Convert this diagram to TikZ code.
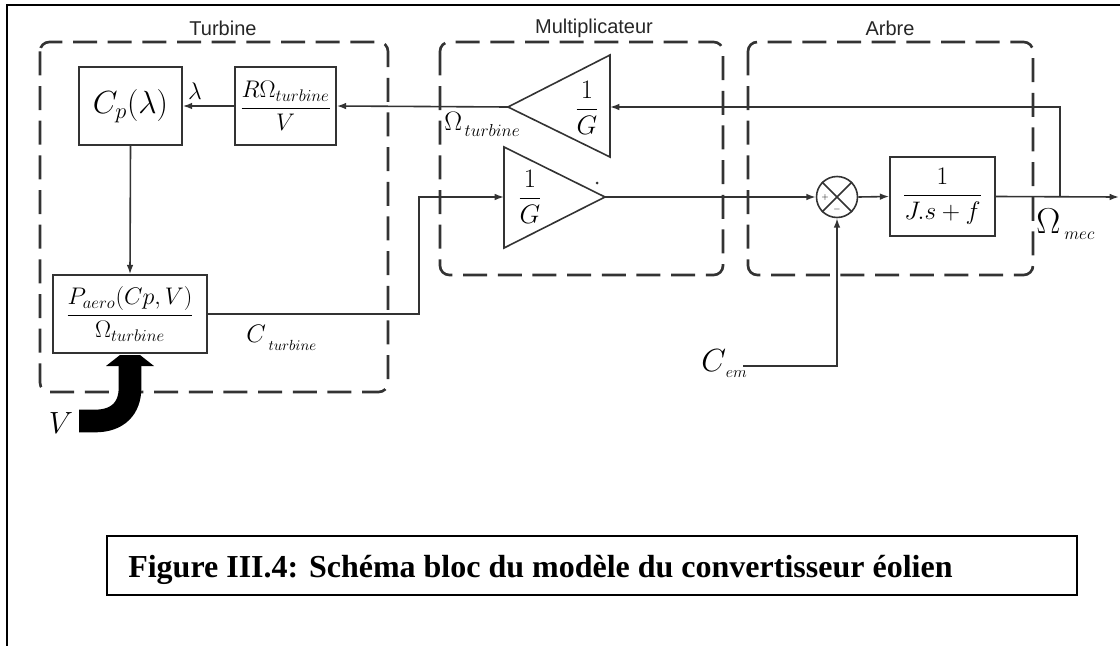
\RequirePackage{fix-cm}
\documentclass[tikz,border=0pt]{standalone}
\usepackage{amsmath}
\usepackage{fontspec}
\setmainfont{Liberation Serif}
\setsansfont{Liberation Sans}
\usetikzlibrary{arrows.meta}
\begin{document}
\begin{tikzpicture}[x=0.75pt,y=-0.75pt,
  ln/.style={draw=black!80, line width=1.2pt},
  arr/.style={ln, -{Latex[length=7pt,width=5pt]}},
  grp/.style={draw=black!80, line width=2pt, dash pattern=on 18pt off 8pt, rounded corners=7pt},
  blk/.style={draw=black!80, line width=1.2pt, inner sep=0pt},
  ttl/.style={font=\sffamily\fontsize{15}{16}\selectfont, text=black!85},
  lbl/.style={font=\fontsize{20}{22}\selectfont, inner sep=0pt},
  big/.style={font=\fontsize{24}{26}\selectfont, inner sep=0pt},
  frc/.style={font=\fontsize{18}{20}\selectfont, inner sep=0pt},
  sig/.style={anchor=base west, inner sep=0pt},
]
\useasboundingbox (0,0) rectangle (1120,646);
% outer frame
\draw[line width=1.5pt] (1120,5) -- (7,5) -- (7,646);
% groups
\draw[grp] (40,42) rectangle (388,392);
\draw[grp] (440,42) rectangle (723,275);
\draw[grp] (748,42) rectangle (1033,275);
\node[ttl] (tT) at (223,28) {Turbine};
\node[ttl] (tM) at (594,28) {Multiplicateur};
\node[ttl] (tA) at (890,28) {Arbre};
% blocks
\node[blk, big, minimum width=103*0.75pt, minimum height=78*0.75pt] (cp) at (130.5,106) {$C_p(\lambda)$};
\node[blk, frc, minimum width=101*0.75pt, minimum height=78*0.75pt] (rov) at (285.5,106) {$\dfrac{R\Omega_{turbine}}{V}$};
\node[blk, frc, minimum width=154*0.75pt, minimum height=78*0.75pt] (pa) at (130,314) {$\dfrac{P_{aero}(Cp,V)}{\Omega_{turbine}}$};
\node[blk, font=\fontsize{19}{21}\selectfont, inner sep=0pt, minimum width=105*0.75pt, minimum height=79*0.75pt] (tf) at (942.5,196.5) {$\dfrac{1}{J.s+f}$};
% gains
\coordinate (g1in) at (610,107);
\coordinate (g1out) at (508,107);
\draw[ln] (610,55) -- (610,157) -- (g1out) -- cycle;
\node[lbl] (g1) at (587,108) {$\dfrac{1}{G}$};
\coordinate (g2in) at (504,197);
\coordinate (g2out) at (605,197);
\draw[ln] (504,147) -- (504,248) -- (g2out) -- cycle;
\node[lbl] (g2) at (530,197) {$\dfrac{1}{G}$};
\fill[black!80] (597,183) circle (1.5);
% summing junction
\node[draw=black!80, line width=1.2pt, circle, minimum size=41*0.75pt, inner sep=0pt] (sum) at (837,197) {};
\draw[ln] (sum.north east) -- (sum.south west) (sum.north west) -- (sum.south east);
\node[font=\fontsize{6}{6}\selectfont, inner sep=0pt] (sp) at (825,197) {$+$};
\node[font=\fontsize{6}{6}\selectfont, inner sep=0pt] (sm) at (837,209) {$-$};
% connectors
\coordinate (br) at (1060,197);
\coordinate (outp) at (1119,197);
\coordinate (k1) at (419,197);
\coordinate (cemp) at (743,366);
\draw[arr] (tf.east) -- (outp);
\draw[arr] (br) |- (g1in);
\draw[arr] (g1out) -- (rov.east);
\draw[arr] (rov.west) -- (cp.east);
\draw[arr] (cp.south) -- (pa.north);
\draw[arr] (pa.east) -| (k1) -- (g2in);
\draw[arr] (g2out) -- (sum.west);
\draw[arr] (sum.east) -- (tf.west);
\draw[arr] (cemp) -| (sum.south);
% labels
\node[font=\fontsize{18}{20}\selectfont, inner sep=0pt] (lam) at (195,91) {$\lambda$};
\node[sig] (omt) at (444,130) {{\fontsize{20}{22}\selectfont$\Omega$}\hspace{2pt}\raisebox{-5pt}{\fontsize{13}{14}\selectfont$turbine$}};
\node[sig] (ctu) at (246,342) {{\fontsize{19}{20}\selectfont$C$}\hspace{2pt}\raisebox{-6pt}{\fontsize{11}{12}\selectfont$turbine$}};
\node[sig] (omm) at (1036,233) {{\fontsize{27}{29}\selectfont$\Omega$}\hspace{3pt}\raisebox{-5pt}{\fontsize{13}{14}\selectfont$mec$}};
\node[sig] (cem) at (701,371) {{\fontsize{24}{26}\selectfont$C$}\raisebox{-5pt}{\fontsize{12}{13}\selectfont$em$}};
\node[font=\fontsize{23}{25}\selectfont, inner sep=0pt] (vv) at (61,423) {$V$};
% wind arrow
\draw[line width=17pt] (79,421) -- (95,421) .. controls (118,421) and (130,408) .. (130,388) -- (130,364);
\fill (106,366) -- (120,355) -- (140,355) -- (154,366) -- cycle;
% caption
\node[draw, line width=1.5pt, minimum width=970*0.75pt, minimum height=59*0.75pt, inner sep=0pt] (cap) at (592,565) {};
\node[anchor=base west, inner sep=0pt, font=\bfseries\fontsize{24}{28}\selectfont] (capt) at (128,577) {Figure III.4: Schéma bloc du modèle du convertisseur éolien};
\end{tikzpicture}
\end{document}
